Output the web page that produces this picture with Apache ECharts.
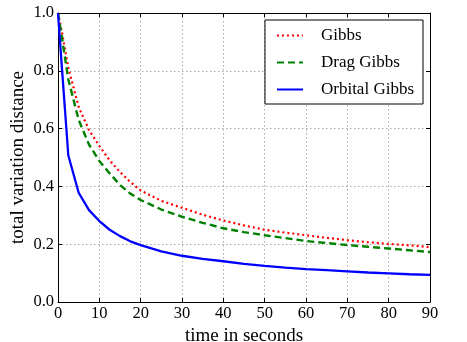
<!DOCTYPE html>
<html lang="en">
<head>
    <meta charset="UTF-8">
    <title>total variation distance</title>
    <style>
        html, body {
            margin: 0;
            padding: 0;
            background: #ffffff;
        }
        #main {
            width: 467px;
            height: 342px;
        }
    </style>
    <script type="text/javascript" src="https://cdn.jsdelivr.net/npm/echarts@6/dist/echarts.min.js"></script>
</head>
<body>
<div id="main"></div>
<script type="text/javascript">
    // values
    var times = [0, 1, 2.5, 5, 7.5, 10, 12.5, 15, 17.5, 20, 25, 30, 35, 40, 45, 50, 55, 60, 65, 70, 75, 80, 85, 90];
    var gibbs = [1.0, 0.93, 0.81, 0.675, 0.595, 0.54, 0.49, 0.45, 0.415, 0.386, 0.35, 0.326, 0.302, 0.282, 0.265, 0.25, 0.24, 0.231, 0.222, 0.214, 0.207, 0.201, 0.196, 0.19];
    var dragGibbs = [1.0, 0.91, 0.77, 0.63, 0.545, 0.488, 0.445, 0.405, 0.375, 0.353, 0.32, 0.295, 0.274, 0.255, 0.242, 0.231, 0.221, 0.211, 0.204, 0.197, 0.191, 0.185, 0.179, 0.173];
    var orbitalGibbs = [1.0, 0.80, 0.507, 0.378, 0.318, 0.28, 0.25, 0.228, 0.21, 0.197, 0.175, 0.16, 0.149, 0.141, 0.132, 0.125, 0.119, 0.114, 0.11, 0.106, 0.102, 0.099, 0.096, 0.094];

    function pairs(vals) {
        return times.map(function (t, i) { return [t, vals[i]]; });
    }

    var font = "'Liberation Serif', 'DejaVu Serif', serif";
    var chart = echarts.init(document.getElementById('main'));
    var tick = {show: true, inside: true, length: 4, lineStyle: {color: '#000', width: 1}};
    var axisLine = {show: true, onZero: false, lineStyle: {color: '#000', width: 1}};
    var grid = {show: true, lineStyle: {color: '#a8a8a8', type: [1.5, 2.5], width: 1}};

    var option = {
        animation: false,
        grid: {left: 58, right: 37, top: 13, bottom: 40, containLabel: false, outerBoundsMode: 'none'},
        legend: {
            data: ['Gibbs', 'Drag Gibbs', 'Orbital Gibbs'],
            orient: 'vertical',
            right: 44,
            top: 20,
            backgroundColor: '#fff',
            borderColor: '#000',
            borderWidth: 1,
            borderRadius: 0,
            padding: [7, 9, 6, 11],
            itemWidth: 26,
            itemHeight: 14,
            itemGap: 10,
            itemStyle: {color: 'transparent', borderWidth: 0, opacity: 0},
            textStyle: {fontFamily: font, fontSize: 17, color: '#000', padding: [0, 0, 0, 13]}
        },
        xAxis: [{
            type: 'value',
            min: 0, max: 90, interval: 10,
            name: 'time in seconds',
            nameLocation: 'middle',
            nameGap: 19,
            nameTextStyle: {fontFamily: font, fontSize: 19, color: '#000'},
            axisLine: axisLine,
            axisTick: tick,
            axisLabel: {fontFamily: font, fontSize: 16.5, color: '#000', margin: 3},
            splitLine: grid
        }, {
            type: 'value',
            position: 'top',
            min: 0, max: 90, interval: 10,
            axisLine: axisLine,
            axisTick: tick,
            axisLabel: {show: false},
            splitLine: {show: false}
        }],
        yAxis: [{
            type: 'value',
            min: 0, max: 1, interval: 0.2,
            name: 'total variation distance',
            nameLocation: 'middle',
            nameGap: 30,
            nameMoveOverlap: false,
            nameTextStyle: {fontFamily: font, fontSize: 19, color: '#000'},
            axisLine: axisLine,
            axisTick: tick,
            axisLabel: {fontFamily: font, fontSize: 16.5, color: '#000', margin: 4,
                formatter: function (v) { return v.toFixed(1); }},
            splitLine: grid
        }, {
            type: 'value',
            position: 'right',
            min: 0, max: 1, interval: 0.2,
            axisLine: axisLine,
            axisTick: tick,
            axisLabel: {show: false},
            splitLine: {show: false}
        }],
        series: [{
            name: 'Gibbs',
            type: 'line',
            data: pairs(gibbs),
            symbol: 'none',
            lineStyle: {color: '#ff0000', width: 2.2, type: [2, 3]},
            itemStyle: {color: '#ff0000'}
        }, {
            name: 'Drag Gibbs',
            type: 'line',
            data: pairs(dragGibbs),
            symbol: 'none',
            lineStyle: {color: '#008000', width: 2.4, type: [7, 4]},
            itemStyle: {color: '#008000'}
        }, {
            name: 'Orbital Gibbs',
            type: 'line',
            data: pairs(orbitalGibbs),
            symbol: 'none',
            lineStyle: {color: '#0000ff', width: 2.3},
            itemStyle: {color: '#0000ff'}
        }]
    };
    chart.setOption(option);
</script>
</body>
</html>
